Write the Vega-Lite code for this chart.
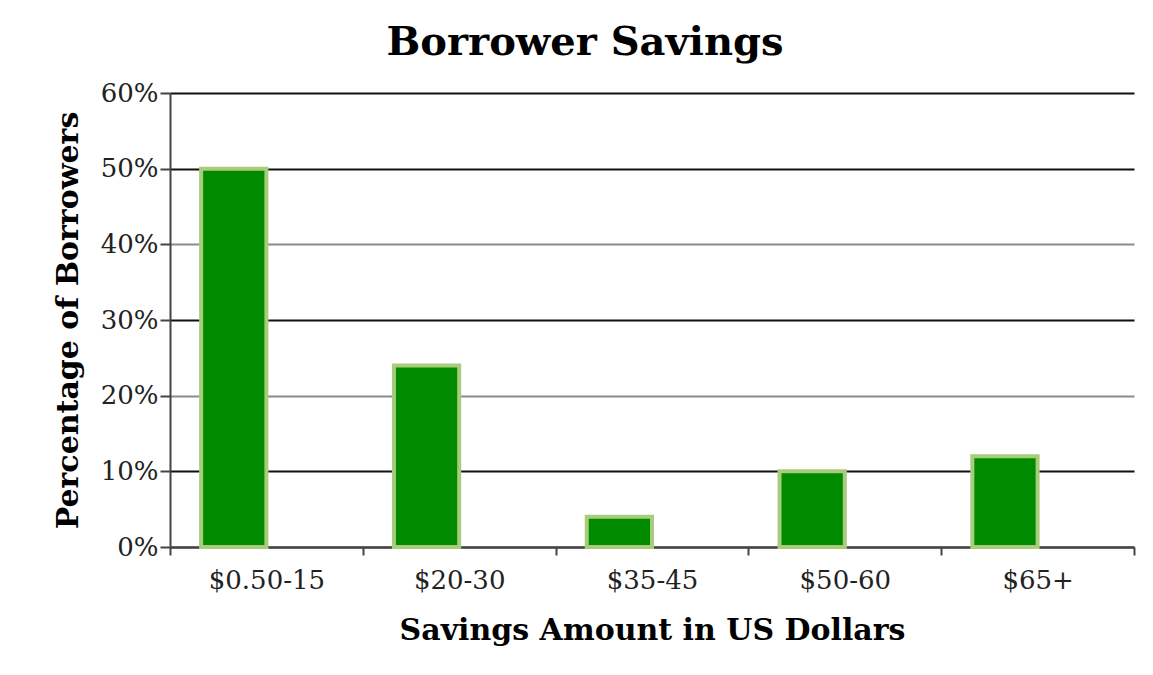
{
  "$schema": "https://vega.github.io/schema/vega-lite/v6.json",
  "width": 964,
  "height": 454,
  "autosize": {"type": "none"},
  "padding": {"left": 170, "top": 93, "right": 19, "bottom": 128},
  "background": "white",
  "title": {
    "text": "Borrower Savings",
    "font": "DejaVu Serif",
    "fontSize": 40,
    "fontWeight": "bold",
    "color": "#000",
    "anchor": "middle",
    "dx": -67,
    "offset": 17
  },
  "data": {
    "values": [
      {"range": "$0.50-15", "series": "A", "pct": 0.50},
      {"range": "$20-30", "series": "A", "pct": 0.24},
      {"range": "$35-45", "series": "A", "pct": 0.04},
      {"range": "$50-60", "series": "A", "pct": 0.10},
      {"range": "$65+", "series": "A", "pct": 0.12}
    ]
  },
  "mark": {"type": "bar", "fill": "#008a00", "stroke": "#a9cc7c", "strokeWidth": 4},
  "encoding": {
    "x": {
      "field": "range",
      "type": "nominal",
      "sort": null,
      "scale": {"paddingInner": 0, "paddingOuter": 0},
      "axis": {
        "title": "Savings Amount in US Dollars",
        "labelAngle": 0,
        "tickBand": "extent",
        "tickExtra": true,
        "tickSize": 8,
        "tickColor": "#444",
        "domainColor": "#444",
        "domainWidth": 2,
        "tickWidth": 2,
        "labelPadding": 12,
        "titlePadding": 22
      }
    },
    "xOffset": {
      "field": "series",
      "scale": {"domain": ["A", "B"], "paddingInner": 0, "paddingOuter": 0.477}
    },
    "y": {
      "field": "pct",
      "type": "quantitative",
      "scale": {"domain": [0, 0.6]},
      "axis": {
        "title": "Percentage of Borrowers",
        "format": ".0%",
        "values": [0, 0.1, 0.2, 0.3, 0.4, 0.5, 0.6],
        "tickSize": 10,
        "tickColor": "#444",
        "tickWidth": 2,
        "domainColor": "#444",
        "domainWidth": 2,
        "labelPadding": 2,
        "titlePadding": 17,
        "grid": true,
        "gridWidth": 2,
        "gridColor": {"condition": {"test": "datum.value == 0.2 || datum.value == 0.4", "value": "#8a8a8a"}, "value": "#111"}
      }
    }
  },
  "config": {
    "view": {"stroke": null},
    "axis": {
      "labelFont": "DejaVu Serif",
      "labelFontSize": 26,
      "labelColor": "#222",
      "titleFont": "DejaVu Serif",
      "titleFontSize": 30,
      "titleFontWeight": "bold",
      "titleColor": "#000"
    }
  }
}
